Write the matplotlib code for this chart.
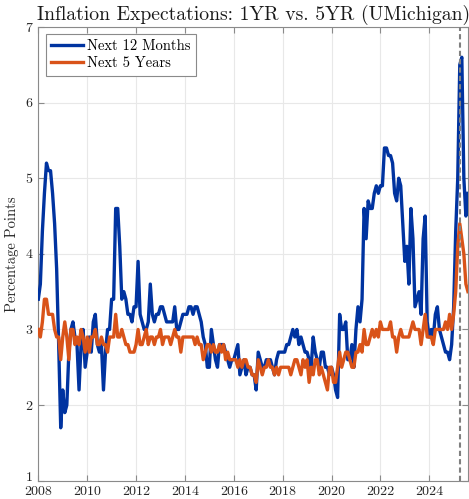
import numpy as np
import matplotlib
matplotlib.use("Agg")
import matplotlib.pyplot as plt
from matplotlib.transforms import ScaledTranslation

# UMichigan survey, monthly values from Jan 2008 (percent)
next_12m = [
    3.4, 3.6, 4.3, 4.8, 5.2, 5.1, 5.1, 4.8, 4.4, 3.8, 2.8, 1.7,   # 2008
    2.2, 1.9, 2.0, 2.7, 3.0, 3.1, 2.9, 2.8, 2.2, 2.8, 3.0, 2.5,   # 2009
    2.7, 2.9, 2.7, 3.1, 3.2, 2.8, 2.7, 2.8, 2.2, 2.7, 3.0, 3.0,   # 2010
    3.4, 3.4, 4.6, 4.6, 4.1, 3.4, 3.5, 3.4, 3.2, 3.2, 3.1, 3.3,   # 2011
    3.3, 3.9, 3.2, 3.1, 3.0, 3.0, 3.1, 3.6, 3.2, 3.1, 3.2, 3.2,   # 2012
    3.3, 3.3, 3.2, 3.1, 3.1, 3.1, 3.1, 3.3, 3.0, 3.0, 3.1, 3.2,   # 2013
    3.2, 3.2, 3.3, 3.3, 3.2, 3.3, 3.3, 3.2, 3.1, 2.9, 2.8, 2.5,   # 2014
    2.5, 3.0, 2.8, 2.6, 2.5, 2.8, 2.8, 2.8, 2.7, 2.6, 2.5, 2.6,   # 2015
    2.6, 2.7, 2.8, 2.4, 2.5, 2.6, 2.4, 2.5, 2.5, 2.4, 2.4, 2.2,   # 2016
    2.7, 2.6, 2.5, 2.5, 2.6, 2.6, 2.6, 2.5, 2.4, 2.6, 2.7, 2.7,   # 2017
    2.7, 2.7, 2.8, 2.8, 2.9, 3.0, 2.9, 3.0, 2.8, 2.9, 2.8, 2.7,   # 2018
    2.7, 2.6, 2.5, 2.9, 2.7, 2.6, 2.5, 2.7, 2.7, 2.5, 2.5, 2.4,   # 2019
    2.5, 2.4, 2.2, 2.1, 3.2, 3.0, 3.0, 3.1, 2.6, 2.6, 2.8, 2.5,   # 2020
    3.0, 3.3, 3.1, 3.4, 4.6, 4.2, 4.7, 4.6, 4.6, 4.8, 4.9, 4.8,   # 2021
    4.9, 4.9, 5.4, 5.4, 5.3, 5.3, 5.2, 4.8, 4.7, 5.0, 4.9, 4.4,   # 2022
    3.9, 4.1, 3.6, 4.6, 4.2, 3.3, 3.4, 3.5, 3.2, 4.2, 4.5, 3.1,   # 2023
    2.9, 3.0, 2.9, 3.2, 3.3, 3.0, 2.9, 2.8, 2.7, 2.7, 2.6, 2.8,   # 2024
    3.3, 4.3, 5.0, 6.5, 6.6, 5.0, 4.5, 4.8,                       # 2025
]

next_5y = [
    3.0, 2.9, 3.1, 3.4, 3.4, 3.2, 3.2, 3.2, 3.0, 2.9, 2.9, 2.6,   # 2008
    2.9, 3.1, 2.9, 2.6, 3.0, 3.0, 2.8, 2.9, 2.8, 3.0, 2.9, 2.7,   # 2009
    2.9, 2.7, 2.9, 2.9, 3.0, 2.8, 2.8, 2.9, 2.8, 2.8, 2.7, 2.9,   # 2010
    2.9, 2.9, 3.2, 2.9, 2.9, 3.0, 2.9, 2.8, 2.8, 2.7, 2.7, 2.7,   # 2011
    2.8, 3.0, 2.8, 2.8, 2.9, 3.0, 2.8, 2.9, 2.9, 2.8, 2.9, 2.9,   # 2012
    3.0, 2.8, 2.9, 2.9, 2.9, 2.8, 2.9, 3.0, 2.9, 2.9, 2.7, 2.9,   # 2013
    2.9, 2.9, 2.9, 2.9, 2.9, 2.8, 2.9, 2.8, 2.8, 2.6, 2.7, 2.8,   # 2014
    2.8, 2.7, 2.8, 2.7, 2.7, 2.8, 2.7, 2.8, 2.6, 2.7, 2.6, 2.6,   # 2015
    2.6, 2.6, 2.5, 2.6, 2.5, 2.6, 2.6, 2.5, 2.5, 2.4, 2.4, 2.3,   # 2016
    2.6, 2.5, 2.4, 2.5, 2.5, 2.6, 2.5, 2.5, 2.4, 2.5, 2.4, 2.5,   # 2017
    2.5, 2.5, 2.5, 2.5, 2.4, 2.5, 2.6, 2.6, 2.5, 2.4, 2.6, 2.5,   # 2018
    2.6, 2.3, 2.5, 2.4, 2.6, 2.6, 2.4, 2.5, 2.4, 2.3, 2.2, 2.5,   # 2019
    2.5, 2.3, 2.3, 2.5, 2.7, 2.5, 2.6, 2.7, 2.7, 2.6, 2.5, 2.5,   # 2020
    2.7, 2.7, 2.8, 2.7, 3.0, 2.8, 2.8, 2.9, 3.0, 2.9, 3.0, 2.9,   # 2021
    3.1, 3.0, 3.0, 3.0, 3.0, 3.1, 2.9, 2.9, 2.7, 2.9, 3.0, 2.9,   # 2022
    2.9, 2.9, 2.9, 3.0, 3.1, 3.0, 3.0, 3.0, 2.8, 3.0, 3.2, 2.9,   # 2023
    2.9, 2.9, 2.8, 3.0, 3.0, 3.0, 3.0, 3.0, 3.1, 3.0, 3.2, 3.0,   # 2024
    3.2, 3.5, 4.1, 4.4, 4.2, 4.0, 3.6, 3.5,                       # 2025
]

start_year = 2008
marker_date = 2025 + 3 / 12.0   # April 2025
x_ticks = list(range(2008, 2025, 2))
y_ticks = [1, 2, 3, 4, 5, 6, 7]

dates = start_year + np.arange(len(next_12m)) / 12.0

plt.rcParams['font.family'] = 'cmr10'
plt.rcParams['axes.formatter.use_mathtext'] = True
plt.rcParams['axes.unicode_minus'] = False

dpi = 100
fig = plt.figure(figsize=(469 / dpi, 499 / dpi), dpi=dpi)
ax = fig.add_axes([0.0817, 0.0367, 0.916, 0.9092])

ax.plot(dates, next_12m, color='#0033a0', lw=2.4, label='Next 12 Months', zorder=3)
ax.plot(dates, next_5y, color='#d95319', lw=2.4, label='Next 5 Years', zorder=3)
ax.axvline(marker_date, color='#808080', lw=1.5, ls=(0, (2.5, 1.5)), zorder=4)

ax.set_xlim(dates[0], dates[-1])
ax.set_ylim(1, 7)
ax.set_xticks(x_ticks)
ax.set_xticklabels([str(v) for v in x_ticks])
ax.set_yticks(y_ticks)
ax.set_yticklabels([str(v) for v in y_ticks])
ax.grid(True, color='#e8e8e8', lw=0.8)
ax.set_axisbelow(True)

for s in ax.spines.values():
    s.set_color('#8a8a8a')
    s.set_linewidth(0.8)
ax.tick_params(direction='in', top=True, right=True, length=4, width=0.8,
               color='#8a8a8a', labelsize=10, labelcolor='#262626')
ax.tick_params(axis='x', pad=4)
ax.tick_params(axis='y', pad=4)

# nudge the bottom "1" up a little so it clears "2008"
lbl = ax.get_yticklabels()[0]
lbl.set_transform(lbl.get_transform() + ScaledTranslation(0, 4 / dpi, fig.dpi_scale_trans))

ax.set_ylabel('Percentage Points', fontsize=10.5, color='#262626', labelpad=5)
ax.set_title('Inflation Expectations: 1YR vs. 5YR (UMichigan)', fontsize=14.2,
             color='#1a1a1a', pad=5)

leg = ax.legend(loc='upper left', fontsize=10.5, fancybox=False, framealpha=1,
                edgecolor='#8a8a8a', handlelength=2.2, handletextpad=0.3,
                borderpad=0.35, labelspacing=0.25, borderaxespad=0.5)
leg.get_frame().set_linewidth(0.8)

fig.savefig('out.png', dpi=dpi)
